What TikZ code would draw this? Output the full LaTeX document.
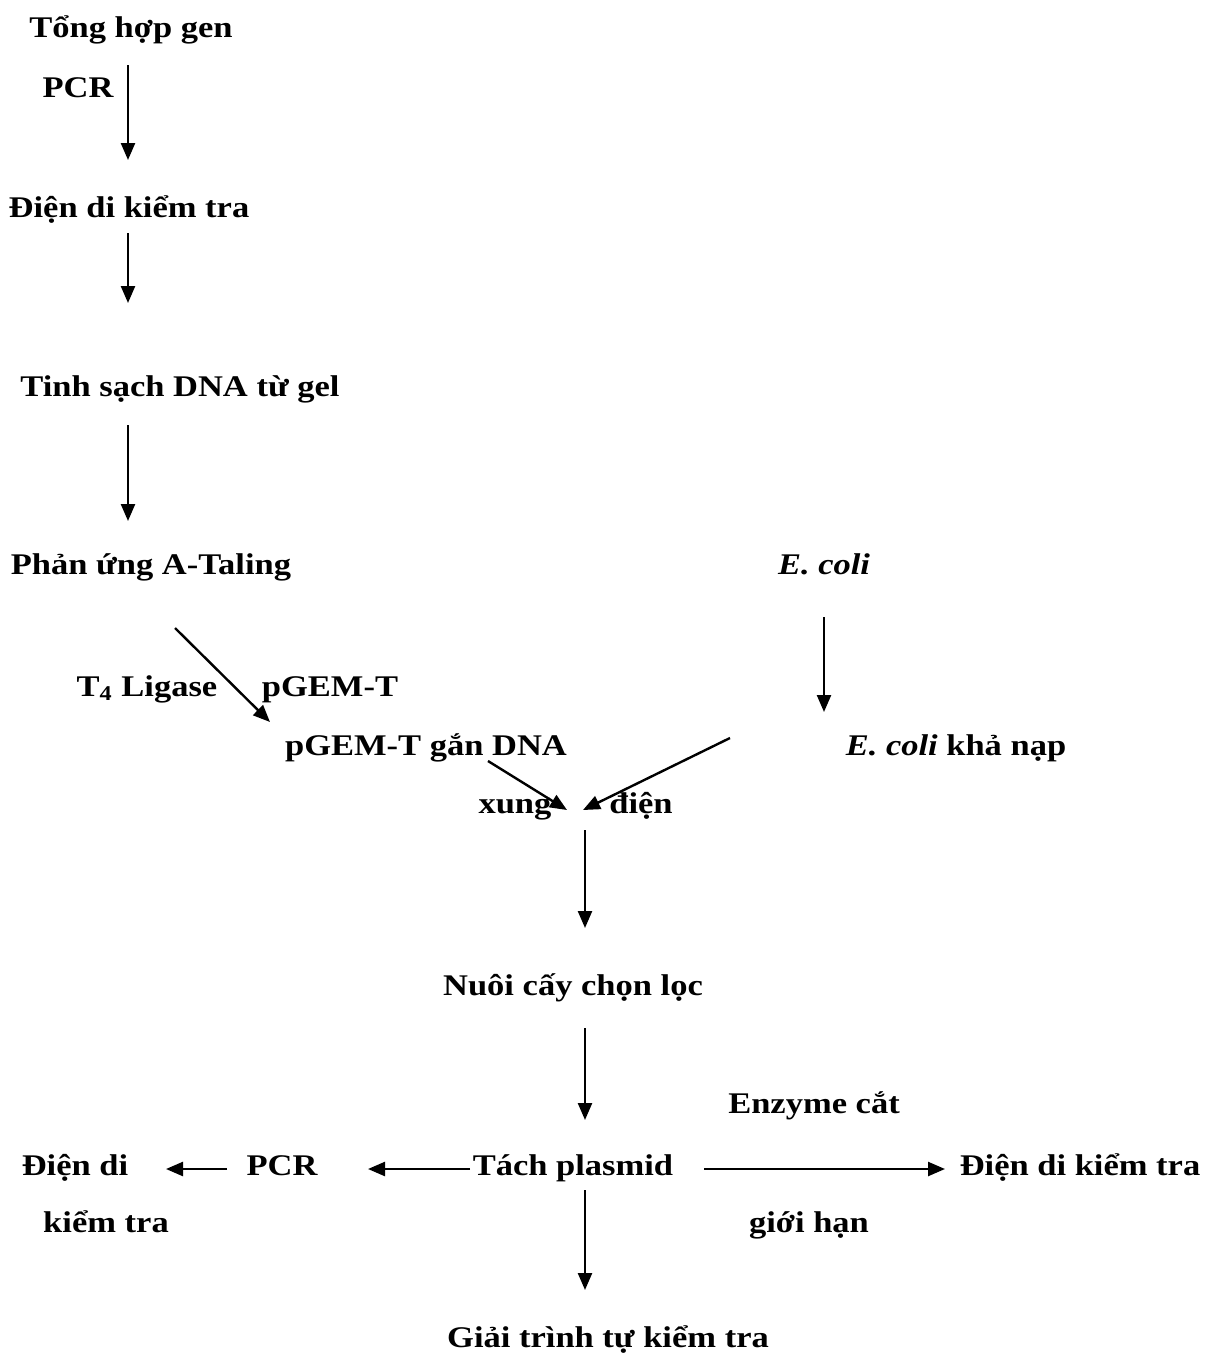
\documentclass[tikz,border=0pt]{standalone}
\usepackage{fontspec}
\setmainfont[FakeStretch=1.15]{Liberation Serif}
\usetikzlibrary{arrows.meta}

\tikzset{
  lbl/.style={anchor=base, inner sep=0pt, font=\fontsize{15}{18}\selectfont\bfseries},
  arr/.style={-{Triangle[length=8.5pt,width=7pt]}, line width=1.2pt},
}

\begin{document}
\begin{tikzpicture}[x=0.5pt,y=-0.5pt]
	\useasboundingbox (0,0) rectangle (1212,1360);

	% Left column
	\node[lbl] (tonghop) at (131,37) {Tổng hợp gen};
	\node[lbl] (pcrA) at (78,97) {PCR};
	\node[lbl] (diendiA) at (129,217) {Điện di kiểm tra};
	\node[lbl] (tinhsach) at (180,396) {Tinh sạch DNA từ gel};
	\node[lbl] (atailing) at (151,574) {Phản ứng A-Taling};

	% Ligation
	\node[lbl] (ligase) at (147,696) {T\textsubscript{4} Ligase};
	\node[lbl] (pgem) at (330,696) {pGEM-T};
	\node[lbl] (pgemdna) at (426,755) {pGEM-T gắn DNA};

	% Right column
	\node[lbl] (ecoli) at (824,574) {\textit{E. coli}};
	\node[lbl] (ecolikn) at (956,755) {\textit{E. coli} khả nạp};

	% Transformation
	\node[lbl] (xung) at (515,813) {xung};
	\node[lbl] (dien) at (641,813) {điện};
	\node[lbl] (nuoicay) at (573,995) {Nuôi cấy chọn lọc};

	% Bottom row
	\node[lbl] (enzyme) at (814,1113) {Enzyme cắt};
	\node[lbl] (tach) at (573,1175) {Tách plasmid};
	\node[lbl] (diendiB) at (1080,1175) {Điện di kiểm tra};
	\node[lbl] (pcrB) at (282,1175) {PCR};
	\node[lbl] (diendiC) at (75,1175) {Điện di};
	\node[lbl] (kiemtra) at (106,1232) {kiểm tra};
	\node[lbl] (gioihan) at (809,1232) {giới hạn};
	\node[lbl] (giaitrinh) at (608,1347) {Giải trình tự kiểm tra};

	% Arrow ends
	\coordinate (tonghop-s) at (128,65);
	\coordinate (diendiA-n) at (128,160);
	\coordinate (diendiA-s) at (128,233);
	\coordinate (tinhsach-n) at (128,303);
	\coordinate (tinhsach-s) at (128,425);
	\coordinate (atailing-n) at (128,521);
	\coordinate (atailing-s) at (175,628);
	\coordinate (pgemdna-n) at (270,722);
	\coordinate (ecoli-s) at (824,617);
	\coordinate (ecolikn-n) at (824,712);
	\coordinate (pgemdna-s) at (488,761);
	\coordinate (ecolikn-w) at (730,738);
	\coordinate (xung-e) at (567,810);
	\coordinate (dien-w) at (583,810);
	\coordinate (xungdien-s) at (585,830);
	\coordinate (nuoicay-n) at (585,928);
	\coordinate (nuoicay-s) at (585,1028);
	\coordinate (tach-n) at (585,1120);
	\coordinate (tach-e) at (704,1169);
	\coordinate (diendiB-w) at (945,1169);
	\coordinate (tach-w) at (470,1169);
	\coordinate (pcrB-e) at (368,1169);
	\coordinate (pcrB-w) at (227,1169);
	\coordinate (diendiC-e) at (166,1169);
	\coordinate (tach-s) at (585,1190);
	\coordinate (giaitrinh-n) at (585,1290);

	% Arrows
	\draw[arr] (tonghop-s) -- (diendiA-n);
	\draw[arr] (diendiA-s) -- (tinhsach-n);
	\draw[arr] (tinhsach-s) -- (atailing-n);
	\draw[arr] (atailing-s) -- (pgemdna-n);
	\draw[arr] (ecoli-s) -- (ecolikn-n);
	\draw[arr] (pgemdna-s) -- (xung-e);
	\draw[arr] (ecolikn-w) -- (dien-w);
	\draw[arr] (xungdien-s) -- (nuoicay-n);
	\draw[arr] (nuoicay-s) -- (tach-n);
	\draw[arr] (tach-e) -- (diendiB-w);
	\draw[arr] (tach-w) -- (pcrB-e);
	\draw[arr] (pcrB-w) -- (diendiC-e);
	\draw[arr] (tach-s) -- (giaitrinh-n);
\end{tikzpicture}
\end{document}
